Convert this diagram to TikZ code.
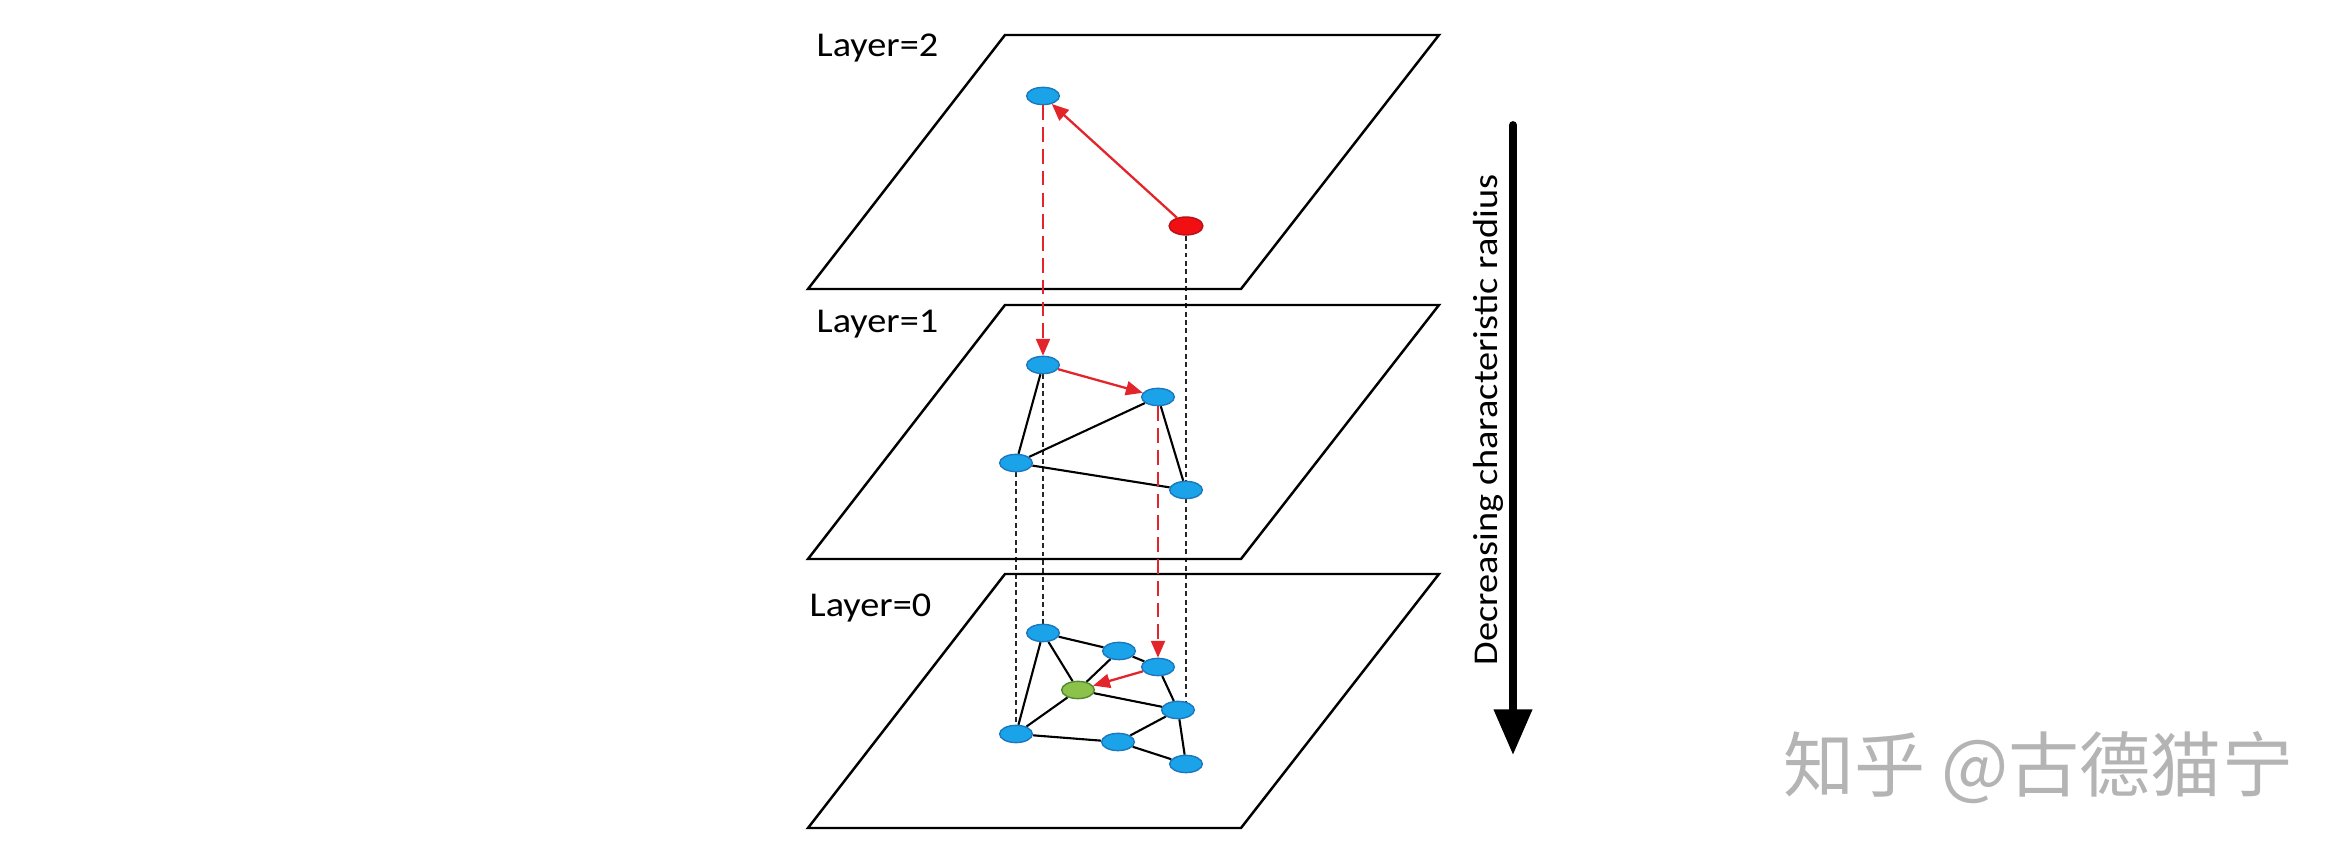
\documentclass[tikz,border=0pt]{standalone}
\usepackage{fontspec}
\setmainfont{Carlito}
\newfontfamily\labfont[FakeStretch=1.1]{Carlito}
\newfontfamily\cjk{Noto Sans CJK SC}
\usetikzlibrary{arrows.meta,backgrounds,shapes.geometric}
\definecolor{nodeblue}{HTML}{1BA3E9}
\definecolor{nodeblueedge}{HTML}{1C78BE}
\definecolor{nodered}{HTML}{F20F14}
\definecolor{noderededge}{HTML}{B81014}
\definecolor{nodegreen}{HTML}{8CC24A}
\definecolor{nodegreenedge}{HTML}{4F8A2C}
\definecolor{arrred}{HTML}{E3242B}
\definecolor{wmgray}{HTML}{B4B4B4}
\tikzset{
  plane/.style={draw=black, line width=0.7pt, line join=miter},
  bnode/.style={ellipse, fill=nodeblue, draw=nodeblueedge, line width=0.4pt, inner sep=0pt, minimum width=9.3pt, minimum height=4.9pt},
  rnode/.style={bnode, fill=nodered, draw=noderededge},
  gnode/.style={bnode, fill=nodegreen, draw=nodegreenedge},
  edge/.style={draw=black, line width=0.6pt},
  redarrow/.style={draw=arrred, line width=0.65pt, -{Triangle[length=4.8pt,width=4pt]}},
  reddash/.style={draw=arrred, line width=0.6pt, dash pattern=on 4.2pt off 2pt, -{Triangle[length=4.8pt,width=4pt]}},
  blackdash/.style={draw=black!85, line width=0.4pt, dash pattern=on 1.4pt off 1pt},
  laylabel/.style={anchor=base west, inner sep=0pt, font=\labfont\fontsize{9.9}{12}\selectfont},
}
\begin{document}
\begin{tikzpicture}[x=0.01cm, y=-0.01cm]
\useasboundingbox (0,0) rectangle (2350,862);

% planes
\foreach \T in {35,305,574} {
  \draw[plane] (1005,\T) -- (1439,\T) -- (1241,\T+254) -- (808,\T+254) -- cycle;
}

% labels
\node[laylabel] (lab2) at (816,57) {Layer=2};
\node[laylabel] (lab1) at (816,333) {Layer=1};
\node[laylabel] (lab0) at (809,617) {Layer=0};

% layer 2 nodes
\node[bnode] (b2) at (1043,96) {};
\node[rnode, minimum width=9.6pt, minimum height=5.1pt] (r2) at (1186,226) {};

% layer 1 nodes
\node[bnode] (p) at (1043,365) {};
\node[bnode] (q) at (1158,397) {};
\node[bnode] (r) at (1016,463) {};
\node[bnode] (s) at (1186,490) {};

% layer 0 nodes
\node[bnode] (a) at (1043,633) {};
\node[bnode] (b) at (1119,651) {};
\node[bnode] (c) at (1158,667) {};
\node[gnode] (g) at (1078,690) {};
\node[bnode] (d) at (1178,710) {};
\node[bnode] (e) at (1016,734) {};
\node[bnode] (f) at (1118,742) {};
\node[bnode] (h) at (1186,764) {};

\begin{pgfonlayer}{background}
  % vertical projections
  \draw[blackdash] (r2) -- (s);
  \draw[blackdash] (s.center) -- (s.center |- d.center);
  \draw[blackdash] (p) -- (a);
  \draw[blackdash] (r) -- (e);
  % layer 1 edges
  \draw[edge] (p) -- (r);
  \draw[edge] (r) -- (q);
  \draw[edge] (q) -- (s);
  \draw[edge] (r) -- (s);
  % layer 0 edges
  \draw[edge] (a) -- (b);
  \draw[edge] (a) -- (g);
  \draw[edge] (a) -- (e);
  \draw[edge] (b) -- (g);
  \draw[edge] (b) -- (c);
  \draw[edge] (c) -- (d);
  \draw[edge] (g) -- (d);
  \draw[edge] (g) -- (e);
  \draw[edge] (e) -- (f);
  \draw[edge] (f) -- (d);
  \draw[edge] (f) -- (h);
  \draw[edge] (d) -- (h);
\end{pgfonlayer}

% search path
\draw[redarrow] (r2) -- (b2);
\draw[reddash] (b2) -- (p);
\draw[redarrow] (p) -- (q);
\draw[reddash] (q) -- (c);
\draw[redarrow] (c) -- (g);

% big arrow
\coordinate (arrtop) at (1513,125);
\coordinate (arrtip) at (1513,755);
\draw[line width=2.2pt, line cap=round, -{Triangle[length=13pt,width=10.5pt]}] (arrtop) -- (arrtip);
\node[rotate=90, anchor=base, inner sep=0pt, font=\labfont\fontsize{9.9}{12}\selectfont] (dec) at (1497,420) {Decreasing characteristic radius};

% watermark
\node[anchor=west, inner sep=0pt, text=wmgray, font=\cjk\fontsize{20.2}{20.2}\selectfont] (wm) at (1783,768) {知乎 @古德猫宁};
\end{tikzpicture}
\end{document}
